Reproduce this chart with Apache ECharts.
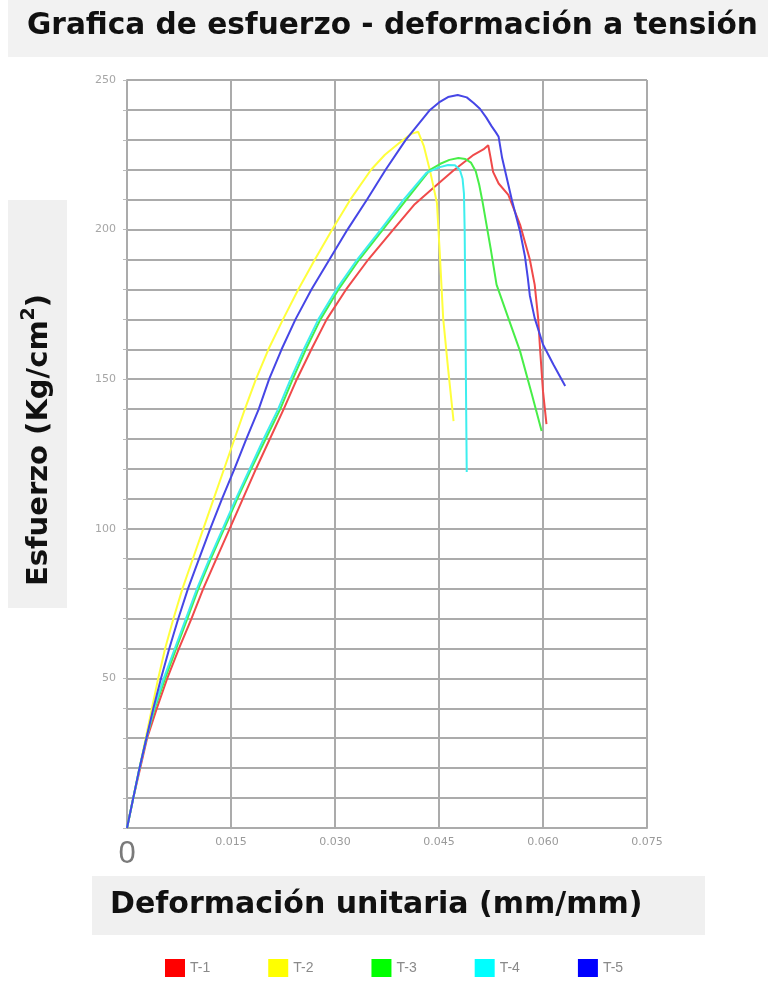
<!DOCTYPE html>
<html>
<head>
<meta charset="utf-8">
<script src="https://cdn.jsdelivr.net/npm/echarts@6/dist/echarts.min.js"></script>
<style>
html,body{margin:0;padding:0;background:#fff;}
#chart{width:768px;height:981px;}
</style>
</head>
<body>
<div id="chart"></div>
<script>
// ---------- DATA ----------
const seriesNames = ['T-1', 'T-2', 'T-3', 'T-4', 'T-5'];

const t1Strain = [0, 0.0009, 0.0019, 0.0029, 0.0043, 0.0058, 0.0075, 0.0093, 0.0110, 0.0129, 0.0148, 0.0167, 0.0186, 0.0206, 0.0226, 0.0245, 0.0266, 0.0288, 0.0316, 0.0348, 0.0384, 0.0415, 0.0440, 0.0470, 0.0500, 0.0514, 0.0521, 0.0524, 0.0528, 0.0536, 0.0550, 0.0567, 0.0581, 0.0588, 0.0593, 0.0596, 0.0600, 0.0605];
const t1Stress = [0, 10, 20, 30, 40, 50, 60, 70, 80, 90, 100, 110, 120, 130, 140, 150, 160, 170, 180, 190, 200, 208.5, 213.6, 219.6, 225, 226.8, 228.2, 224.5, 219.3, 215.4, 211.6, 201.6, 190, 181.6, 170.4, 159.3, 146, 135];

const t2Strain = [0, 0.0009, 0.0018, 0.0027, 0.0036, 0.0045, 0.0055, 0.0067, 0.0080, 0.0095, 0.0110, 0.0125, 0.0140, 0.0155, 0.0170, 0.0186, 0.0204, 0.0225, 0.0247, 0.0271, 0.0296, 0.0322, 0.0352, 0.0372, 0.0393, 0.0410, 0.0420, 0.0428, 0.0437, 0.0447, 0.0451, 0.0456, 0.0463, 0.0471];
const t2Stress = [0, 10, 20, 30, 40, 50, 60, 70, 80, 90, 100, 110, 120, 130, 140, 150, 160, 170, 180, 190, 200, 210, 220, 225, 229, 232, 232.7, 228, 219.7, 209, 192.7, 170.4, 153.8, 136];

const t3Strain = [0, 0.0009, 0.0018, 0.0028, 0.0040, 0.0055, 0.0071, 0.0087, 0.0103, 0.0121, 0.0140, 0.0159, 0.0179, 0.0200, 0.0221, 0.0239, 0.0258, 0.0279, 0.0305, 0.0335, 0.0369, 0.0403, 0.0437, 0.0452, 0.0465, 0.0478, 0.0488, 0.0496, 0.0503, 0.0508, 0.0513, 0.0519, 0.0525, 0.0533, 0.0550, 0.0567, 0.0584, 0.0598];
const t3Stress = [0, 10, 20, 30, 40, 50, 60, 70, 80, 90, 100, 110, 120, 130, 140, 150, 160, 170, 180, 190, 200, 210, 220, 222, 223.3, 223.9, 223.6, 222.4, 219.5, 215, 209, 201, 193, 181.6, 170.4, 159.3, 144.9, 132.7];

const t4Strain = [0, 0.0009, 0.0018, 0.0028, 0.0039, 0.0053, 0.0069, 0.0085, 0.0101, 0.0119, 0.0138, 0.0157, 0.0177, 0.0197, 0.0218, 0.0236, 0.0255, 0.0276, 0.0302, 0.0332, 0.0366, 0.0399, 0.0432, 0.0450, 0.0463, 0.0473, 0.0480, 0.0484, 0.0486, 0.0487, 0.0488, 0.0489, 0.0490];
const t4Stress = [0, 10, 20, 30, 40, 50, 60, 70, 80, 90, 100, 110, 120, 130, 140, 150, 160, 170, 180, 190, 200, 210, 219, 220.8, 221.6, 221.5, 220, 217, 212, 200, 175, 145, 119];

const t5Strain = [0, 0.0009, 0.0018, 0.0028, 0.0038, 0.0049, 0.0061, 0.0074, 0.0088, 0.0104, 0.0120, 0.0137, 0.0155, 0.0172, 0.0190, 0.0205, 0.0223, 0.0243, 0.0266, 0.0292, 0.0318, 0.0346, 0.0373, 0.0402, 0.0437, 0.0450, 0.0463, 0.0477, 0.0490, 0.0500, 0.0509, 0.0518, 0.0526, 0.0532, 0.0536, 0.0541, 0.0547, 0.0555, 0.0567, 0.0574, 0.0578, 0.0581, 0.0588, 0.0600, 0.0615, 0.0632];
const t5Stress = [0, 10, 20, 30, 40, 50, 60, 70, 80, 90, 100, 110, 120, 130, 140, 150, 160, 170, 180, 190, 200, 210, 220, 230, 240, 242.5, 244.3, 245, 244.2, 242.3, 240.4, 237.5, 234.5, 232.5, 231, 224, 218, 210, 199.3, 191, 184, 178, 170.4, 161.6, 154.9, 147.7];

const yTickLabels = [50, 100, 150, 200, 250];
const xTickLabels = ['0', '0.015', '0.030', '0.045', '0.060', '0.075'];

const legendColors = ['#ff0000', '#ffff00', '#00ff00', '#00ffff', '#0000ff'];
const lineColors = ['#f04a4a', '#ffff3c', '#48ee48', '#3eeeee', '#4646e6'];

// ---------- BUILD ----------
const strains = [t1Strain, t2Strain, t3Strain, t4Strain, t5Strain];
const stresses = [t1Stress, t2Stress, t3Stress, t4Stress, t5Stress];

const series = seriesNames.map((name, i) => ({
  name: name,
  type: 'line',
  data: strains[i].map((x, k) => [x, stresses[i][k]]),
  showSymbol: false,
  symbol: 'none',
  smooth: false,
  lineStyle: { color: lineColors[i], width: 2 },
  itemStyle: { color: legendColors[i] },
  z: 2 + i
}));

const chart = echarts.init(document.getElementById('chart'), null, { renderer: 'canvas' });

const gridLine = { show: true, lineStyle: { color: '#ababab', width: 2 } };

chart.setOption({
  backgroundColor: '#ffffff',
  animation: false,
  grid: { left: 127, right: 121, top: 80, bottom: 153, containLabel: false },
  xAxis: {
    type: 'value',
    min: 0,
    max: 0.075,
    interval: 0.015,
    axisLine: { show: true, lineStyle: { color: '#ababab', width: 2 } },
    axisTick: { show: false },
    splitLine: gridLine,
    axisLabel: {
      margin: 9,
      color: '#9a9a9a',
      fontSize: 11,
      fontFamily: 'DejaVu Sans',
      formatter: function (v) {
        const idx = Math.round(v / 0.015);
        const s = xTickLabels[idx];
        return idx === 0 ? '{big|' + s + '}' : s;
      },
      rich: {
        big: { fontSize: 31, color: '#7a7a7a', fontFamily: 'Liberation Sans', lineHeight: 34 }
      }
    }
  },
  yAxis: {
    type: 'value',
    min: 0,
    max: 250,
    interval: 10,
    axisLine: { show: true, lineStyle: { color: '#ababab', width: 2 } },
    axisTick: { show: true, length: 4, lineStyle: { color: '#bbbbbb', width: 1 } },
    splitLine: gridLine,
    axisLabel: {
      margin: 11,
      color: '#a6a6a6',
      fontSize: 11,
      fontFamily: 'DejaVu Sans',
      formatter: function (v) {
        return yTickLabels.indexOf(Math.round(v)) >= 0 ? String(Math.round(v)) : '';
      }
    }
  },
  legend: {
    left: 160,
    top: 954,
    icon: 'rect',
    itemWidth: 20,
    itemHeight: 18,
    itemGap: 58,
    textStyle: { color: '#8a8a8a', fontSize: 14, fontFamily: 'Liberation Sans' },
    data: seriesNames.map((n, i) => ({ name: n, itemStyle: { color: legendColors[i] } }))
  },
  graphic: [
    { type: 'rect', left: 8, top: 0, shape: { width: 760, height: 57 }, style: { fill: '#f2f2f2' }, z: -10 },
    { type: 'text', left: 27, top: 11, style: { text: 'Grafica de esfuerzo - deformación a tensión', font: 'bold 29.6px "DejaVu Sans"', fill: '#111' } },
    { type: 'rect', left: 8, top: 200, shape: { width: 59, height: 408 }, style: { fill: '#f0f0f0' }, z: -10 },
    {
      type: 'text', x: 37, y: 440, rotation: Math.PI / 2,
      style: {
        text: '{m|Esfuerzo (Kg/cm}{s|2}{m|)}',
        align: 'center', verticalAlign: 'middle',
        rich: {
          m: { font: 'bold 29px "DejaVu Sans"', fill: '#111', lineHeight: 34, verticalAlign: 'bottom' },
          s: { font: 'bold 19px "DejaVu Sans"', fill: '#111', lineHeight: 34, verticalAlign: 'top', padding: [0, 0, 12, 0] }
        }
      }
    },
    { type: 'rect', left: 92, top: 876, shape: { width: 613, height: 59 }, style: { fill: '#f0f0f0' }, z: -10 },
    { type: 'text', left: 110, top: 890, style: { text: 'Deformación unitaria (mm/mm)', font: 'bold 30px "DejaVu Sans"', fill: '#111' } }
  ],
  series: series
});
</script>
</body>
</html>
